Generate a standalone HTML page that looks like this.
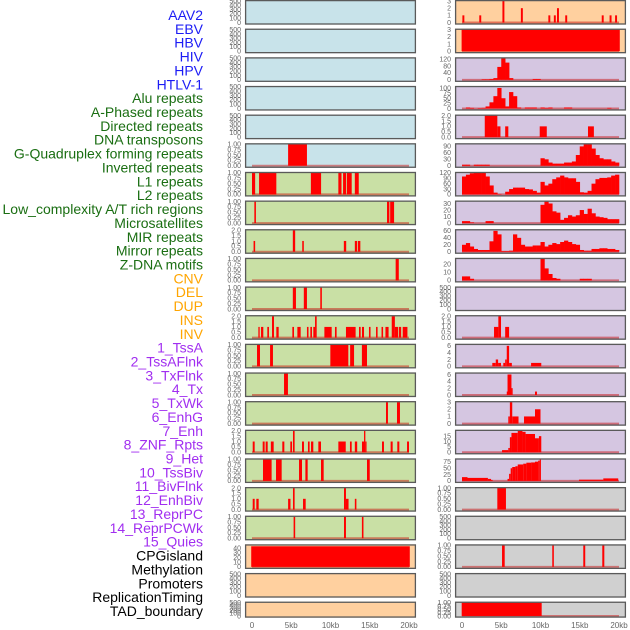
<!DOCTYPE html>
<html><head><meta charset="utf-8">
<style>
html,body{margin:0;padding:0;background:#fff;}
svg{display:block;font-family:"Liberation Sans",sans-serif;}
</style></head>
<body>
<svg id="chart" width="630" height="630" viewBox="0 0 630 630" xmlns="http://www.w3.org/2000/svg"></svg>
<script>
// ---------- data ----------
const featureLabels = ["AAV2","EBV","HBV","HIV","HPV","HTLV-1","Alu repeats","A-Phased repeats","Directed repeats","DNA transposons","G-Quadruplex forming repeats","Inverted repeats","L1 repeats","L2 repeats","Low_complexity A/T rich regions","Microsatellites","MIR repeats","Mirror repeats","Z-DNA motifs","CNV","DEL","DUP","INS","INV","1_TssA","2_TssAFlnk","3_TxFlnk","4_Tx","5_TxWk","6_EnhG","7_Enh","8_ZNF_Rpts","9_Het","10_TssBiv","11_BivFlnk","12_EnhBiv","13_ReprPC","14_ReprPCWk","15_Quies","CPGisland","Methylation","Promoters","ReplicationTiming","TAD_boundary"];
const labelGroups = [6,13,5,15,5];
const groupColors = ["#1c1cf5","#1a6e12","#ffa500","#a12ef0","#000000"];

const T_EMPTY = ["0","100","200","300","400","500"];
const T_01 = ["0.00","0.25","0.50","0.75","1.00"];
const T_02 = ["0.0","0.5","1.0","1.5","2.0"];

const leftBg = ["#c8e3ea","#c8e3ea","#c8e3ea","#c8e3ea","#c8e3ea","#c8e3ea","#c9e0a5","#c9e0a5","#c9e0a5","#c9e0a5","#c9e0a5","#c9e0a5","#c9e0a5","#c9e0a5","#c9e0a5","#c9e0a5","#c9e0a5","#c9e0a5","#c9e0a5","#ffd09f","#ffd09f","#ffd09f"];
const rightBg = ["#ffd09f","#ffd09f","#d5c6e1","#d5c6e1","#d5c6e1","#d5c6e1","#d5c6e1","#d5c6e1","#d5c6e1","#d5c6e1","#d5c6e1","#d5c6e1","#d5c6e1","#d5c6e1","#d5c6e1","#d5c6e1","#d5c6e1","#d0d0d0","#d0d0d0","#d0d0d0","#d0d0d0","#d0d0d0"];

const leftTicks = [T_EMPTY,T_EMPTY,T_EMPTY,T_EMPTY,T_EMPTY,T_01,T_01,T_01,T_02,T_01,T_01,T_02,T_01,T_01,T_01,T_02,T_01,T_02,T_01,["0","10","20","30","40"],T_EMPTY,T_EMPTY];
const leftMax = [500,500,500,500,500,1,1,1,2,1,1,2,1,1,1,2,1,2,1,46,500,500];
const rightTicks = [["0","1","2","3"],["0","1","2","3"],["0","40","80","120"],["0","25","50","75","100"],T_02,["0","30","60","90"],["0","30","60","90","120"],["0","10","20","30"],["0","20","40","60"],["0","10","20"],T_EMPTY,T_02,["0","2","4","6"],["0","2","4","6"],["0","1","2","3"],["0","5","10","15"],["0","25","50","75"],T_01,T_EMPTY,T_01,T_EMPTY,T_01];
const rightMax = [3,3,125,105,2,100,120,33,62,27,500,2,6.3,6.3,3,20,85,1,500,1,500,1];

// segments: [startKb, endKb, value]
const leftSegs = [
 [],[],[],[],[],
 [[4.6,7.0,1]],
 [[0,0.4,1],[0.9,3.1,1],[7.5,8.8,1],[11,11.4,1],[11.6,12,1],[12.1,12.7,1],[13.1,13.6,1]],
 [[0.3,0.5,1],[17.2,17.5,1],[17.6,18.1,1]],
 [[0.2,0.4,1],[5.2,5.5,2],[6.4,6.6,1],[11.7,12,1],[13.1,13.4,1],[13.5,13.8,1]],
 [[18.3,18.7,1]],
 [[5.2,5.6,1],[6.6,7.0,1],[8.7,8.9,1]],
 [[0.81,0.98,1],[1.15,1.44,1],[1.95,2.16,1],[2.55,2.8,2],[3.1,3.4,1],[5.14,5.35,1],[5.78,6.2,1],[7.0,7.2,1],[7.43,7.64,1],[7.81,8.03,1],[8.03,8.24,2],[9.22,10.15,1],[10.57,10.78,1],[11.97,13.2,1],[13.63,13.84,1],[14.01,14.27,1],[14.9,15.1,1],[15.8,16.0,1],[16.5,16.7,1],[17.0,17.4,1],[17.8,18.2,2],[18.2,18.6,1],[18.7,19.0,1],[19.2,19.8,1]],
 [[0.64,1.02,1],[2.3,2.67,1],[9.98,12.27,1],[12.5,13.0,1],[14.0,14.65,1]],
 [[4.08,4.58,1]],
 [[17.07,17.32,1],[18.47,18.85,1]],
 [[0.09,0.34,1],[1.36,1.61,1],[1.74,2.0,1],[2.4,2.76,1],[3.86,4.12,1],[4.88,5.1,1],[5.22,5.43,2],[6.37,6.62,1],[7.13,7.34,1],[7.52,7.81,1],[8.45,8.79,1],[11.0,11.94,1],[12.48,12.7,1],[13.1,13.4,1],[14.01,14.27,1],[14.27,14.44,2],[14.44,14.5,1],[16.56,16.81,1],[17.66,17.92,1],[18.51,18.77,1],[19.75,20.0,1]],
 [[1.4,2.5,1],[3.06,3.78,1],[5.99,6.37,1],[6.8,7.09,1],[8.79,9.13,1],[14.65,15.0,1]],
 [[0.09,0.34,1],[0.55,0.85,1],[4.6,4.9,1],[5.22,5.43,2],[6.5,6.84,1],[11.72,11.97,2],[11.97,12.3,1],[13.1,13.3,1]],
 [[5.3,5.5,1],[11.72,11.97,1],[14.0,14.2,1]],
 [[-0.1,20.1,44]],
 [],[]
];

const rightSegs = [
 [[0.05,0.3,1],[2.2,2.45,1],[5.15,5.4,3],[7.5,7.75,2],[11.0,11.25,1],[11.7,11.95,1],[12.1,12.35,2],[13.15,13.4,1],[17.8,18.05,1],[18.8,19.05,1],[19.5,19.75,1]],
 [[-0.05,20.1,3]],
 null,null,
 [[2.9,4.5,2],[4.5,4.9,1],[5.5,5.9,1],[9.9,10.8,1],[16.05,16.8,1]],
 null,null,null,null,null,
 [],
 [[4.08,4.63,1],[4.63,4.97,2],[5.5,6.0,1]],
 [[3.86,4.3,1],[4.3,4.6,2],[4.6,4.97,1],[5.26,5.5,1],[5.5,5.7,2],[5.7,6.0,6],[6.0,6.35,1],[8.8,10.1,1]],
 [[5.7,5.8,1],[5.8,6.3,6],[6.3,6.45,2],[9.3,9.55,1]],
 [[5.9,6.1,1],[6.1,6.4,3],[6.4,7.2,1],[7.9,9.3,1],[9.3,10.0,2]],
 [[5.1,5.9,2],[5.9,6.1,4],[6.1,6.3,14],[6.3,7.1,18],[7.1,7.7,20],[7.7,8.1,19],[8.1,9.3,17],[9.3,9.8,13],[9.8,10.1,15]],
 [[0,0.7,15],[0.7,3.3,12],[3.3,3.7,8],[3.7,3.9,4],[5.8,6.0,8],[6.0,6.2,28],[6.2,6.4,50],[6.4,6.8,55],[6.8,7.1,58],[7.1,7.8,65],[7.8,8.2,68],[8.2,8.8,72],[8.8,9.3,73],[9.3,9.7,76],[9.7,9.9,80],[9.9,10.05,85],[14.9,18.0,5],[18.0,19.9,10]],
 [[4.5,5.6,1]],
 [],
 [[5.1,5.44,1],[11.5,11.7,1],[15.45,15.7,1],[17.87,18.13,1]],
 [],
 [[-0.04,10.15,1]]
];

// dense series: 40 bins of 0.5 kb from 0 to 20 kb
const binsHIV  = [0,0,0,0,0,3,3,5,10,75,125,100,10,0,0,0,0,0,5,5,0,0,0,0,0,0,0,0,0,0,0,0,0,0,0,0,0,0,0,0];
const binsHPV  = [0,5,3,0,2,3,10,30,60,100,50,10,80,60,5,0,5,5,5,0,5,3,5,0,0,0,5,5,0,0,0,0,0,0,0,0,0,3,0,0];
const binsRow6 = [5,5,0,5,5,5,5,0,0,0,0,0,0,0,0,0,0,0,0,0,35,30,15,10,10,10,15,15,20,50,90,100,100,80,50,35,30,30,20,15];
const binsL1   = [100,110,118,120,120,120,100,50,10,2,0,15,30,38,38,38,30,28,20,10,70,50,60,85,95,105,95,90,90,70,12,10,20,60,85,92,92,95,105,110];
const binsRow8 = [3,3,1,0,0,0,3,3,0,0,0,0,0,0,0,0,0,0,0,0,28,33,30,18,16,5,8,12,10,12,20,14,22,15,10,9,8,6,6,6];
const binsRow9 = [20,25,15,8,5,5,5,30,60,50,2,2,3,50,40,20,15,15,18,18,28,15,20,25,22,28,32,28,22,20,5,3,3,8,8,10,10,8,8,5];
const binsRow10= [5,5,2,0,0,0,0,0,0,0,0,0,0,0,0,0,0,0,0,0,27,15,8,3,2,0,0,0,0,0,2,2,2,0,0,0,0,0,0,0];
const rightBins = [null,null,binsHIV,binsHPV,null,binsRow6,binsL1,binsRow8,binsRow9,binsRow10,null,null,null,null,null,null,null,null,null,null,null,null];

const xTickVals = [0,5,10,15,20];
const xTickText = ["0","5kb","10kb","15kb","20kb"];

// ---------- drawing ----------
const svg = document.getElementById('chart');
const NS = "http://www.w3.org/2000/svg";
function mk(tag, attrs, parent){
  const e = document.createElementNS(NS, tag);
  for (const k in attrs) e.setAttribute(k, attrs[k]);
  (parent||svg).appendChild(e);
  return e;
}
const PITCH = 28.65, PH = 24.6;
function rowTop(i){ return i*PITCH; }
function rowH(i){ return i===21 ? 16 : PH; }
const LEFT = {x0:245, x1:416, z:252, s:7.85, lab:241};
const RIGHT = {x0:455, x1:626, z:462, s:7.85, lab:451};
function xs(side, kb){ return side.z + kb*side.s; }
function ys(i, M, v){ const t=rowTop(i), h=rowH(i); return t + 1 + (1 - (v + 0.05*M)/(1.05*M))*(h-2); }

// labels
let li = 0;
labelGroups.forEach((n,g)=>{
  for(let k=0;k<n;k++){
    const t = mk('text',{x:203,y:(15+li*13.86+5).toFixed(1),'text-anchor':'end','font-size':'14',fill:groupColors[g]});
    
    
    t.textContent = featureLabels[li];
    li++;
  }
});

function drawPanel(side, i, bg, ticks, M, segs, bins, tag){
  const g = mk('g',{});
  
  
  const t=rowTop(i), h=rowH(i);
  mk('rect',{x:side.x0,y:t,width:side.x1-side.x0,height:h,fill:bg},g);
  const empty = M===500;
  if(!empty){
    mk('line',{x1:xs(side,0),x2:xs(side,20),y1:ys(i,M,0),y2:ys(i,M,0),stroke:'rgba(200,0,0,0.45)','stroke-width':2},g);
  }
  (segs||[]).forEach(s=>{
    const y=ys(i,M,s[2]), y0=ys(i,M,0);
    const r = mk('rect',{x:xs(side,s[0]).toFixed(2),y:y.toFixed(2),width:Math.max(1.2,(s[1]-s[0])*side.s).toFixed(2),height:(y0-y).toFixed(2),fill:'#ff0000'},g);
    
    
  });
  if(bins){
    bins.forEach((v,b)=>{
      if(v<=0) return;
      const y=ys(i,M,Math.min(v,M)), y0=ys(i,M,0);
      const r = mk('rect',{x:xs(side,b*0.5).toFixed(2),y:y.toFixed(2),width:(0.5*side.s+0.3).toFixed(2),height:(y0-y).toFixed(2),fill:'#ff0000'},g);
      
      
    });
  }
  mk('rect',{x:side.x0+0.6,y:t+0.6,width:side.x1-side.x0-1.2,height:h-1.2,fill:'none',stroke:'#5a5a5a','stroke-width':1.3},g);
  const tickMax = parseFloat(ticks[ticks.length-1]);
  ticks.forEach(s=>{
    const v=parseFloat(s);
    const y = empty ? ys(i,M*1.0,v) : ys(i,M,v);
    const tx = mk('text',{x:side.lab,y:(y+2.3).toFixed(1),'text-anchor':'end','font-size':'7',fill:'#666'},g);
    
    
    tx.textContent = s;
  });
}

for(let i=0;i<22;i++){
  drawPanel(LEFT,i,leftBg[i],leftTicks[i],leftMax[i],leftSegs[i],null,'left');
  drawPanel(RIGHT,i,rightBg[i],rightTicks[i],rightMax[i],rightSegs[i],rightBins[i],'right');
}

[LEFT,RIGHT].forEach((side,k)=>{
  xTickVals.forEach((v,j)=>{
    const tx = mk('text',{x:xs(side,v),y:628,'text-anchor':'middle','font-size':'8',fill:'#666'});
    
    
    tx.textContent = xTickText[j];
  });
});
</script>
</body></html>
